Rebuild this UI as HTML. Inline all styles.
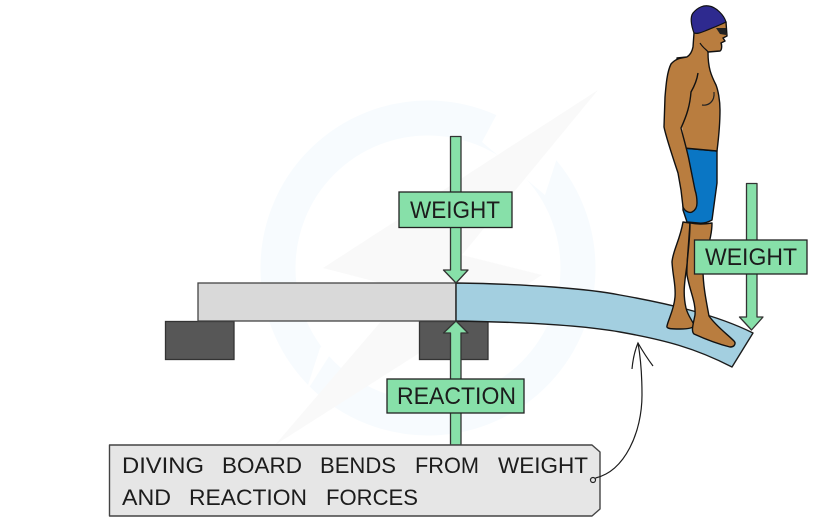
<!DOCTYPE html>
<html>
<head>
<meta charset="utf-8">
<style>
html,body{margin:0;padding:0;background:#fff;width:825px;height:527px;overflow:hidden}
svg{display:block}
text{font-family:"Liberation Sans",sans-serif;fill:#1c1c1c}
</style>
</head>
<body>
<svg width="825" height="527" viewBox="0 0 825 527" xmlns="http://www.w3.org/2000/svg">
<!-- watermark -->
<circle cx="428" cy="268" r="150" fill="none" stroke="#f7fbfe" stroke-width="35"/>
<polygon points="498,112 482,142 545,195 558,155 620,90 570,70" fill="#fff"/>
<polygon points="320,348 307,388 268,452 365,300" fill="#fff"/>
<polygon points="598,90 323,268 408,290 275,445 542,275 462,255" fill="#f9f9f9"/>

<!-- blocks -->
<rect x="165.500" y="321.500" width="68.500" height="38" fill="#575757" stroke="#333" stroke-width="1.300"/>
<rect x="419.500" y="321.500" width="68.500" height="38" fill="#575757" stroke="#333" stroke-width="1.300"/>

<!-- board -->
<rect x="198" y="283" width="258" height="38" fill="#d9d9d9" stroke="#444" stroke-width="1.300"/>
<path d="M456,283 C530,284 590,289 620,295 C665,303 715,314 753,333 L732,367 C695,348 665,340 620,332 C580,325 520,322 456,321 Z" fill="#a3cfe0" stroke="#1c1c1c" stroke-width="1.400" stroke-linejoin="round"/>

<!-- shorts -->
<path d="M683,148 L717,151 L717,183 L712,220 Q705,224 698,223 L687,222 L683,210 Z" fill="#0a76c4" stroke="#111" stroke-width="1.400" stroke-linejoin="round"/>

<!-- back leg -->
<path d="M683,222 C680,240 673,250 672,262 C673,278 676,285 675,297 C674,310 668,320 667,326 C666,329 672,329 680,329 C688,329 694,328 694,325 C692,320 688,316 686,308 C683,295 684,285 687,265 L690,223 Z" fill="#b97d3f" stroke="#111" stroke-width="1.400" stroke-linejoin="round"/>
<!-- front leg -->
<path d="M690,223 C690,245 686,262 687,275 C690,292 696,302 695,315 C693,325 691,331 694,334 C705,339 718,344 730,347 C735,347 736,343 734,341 C727,334 716,326 709,316 C706,300 703,285 703,270 C704,255 712,240 712,223 Q700,225 690,223 Z" fill="#b97d3f" stroke="#111" stroke-width="1.400" stroke-linejoin="round"/>

<!-- torso and head -->
<path d="M694,33 L693,47 C692,52 690,55 687,57 L677,58 L681,128 L684,148 L717,151 C719,135 720,120 720,110 C720,100 718,90 716,85 C711,75 708,68 708,52 L720,51 C722,50 722,45 721,43 L725,41 L723,38 L727,36 L726,22 L705,30 Z" fill="#b97d3f" stroke="#111" stroke-width="1.400" stroke-linejoin="round"/>
<!-- white sliver between arm and torso -->
<polygon points="680,128 682,127 685,147 683,147" fill="#fff"/>
<!-- arm -->
<path d="M687,57 C682,58 676,58 671,64 C667,72 666,85 665,97 L664,127 C666,137 672,155 678,173 L681,190 L683,207 C685,212 690,213 692,212 C696,210 697,206 697,203 C697,197 696,193 695,190 C693,180 691,170 689,160 C687,150 684,140 681,128 C687,115 690,105 691,92 C695,85 697,80 698,73 Z" fill="#b97d3f"/>
<path d="M687,57 C682,58 676,58 671,64 C667,72 666,85 665,97 L664,127 C666,137 672,155 678,173 L681,190 L683,207 C685,212 690,213 692,212 C696,210 697,206 697,203 C697,197 696,193 695,190 C693,180 691,170 689,160 C687,150 684,140 681,128 C687,115 690,105 691,92 C695,85 697,80 698,73" fill="none" stroke="#111" stroke-width="1.400"/>
<path d="M700,43 C703,48 707,50 708,52" fill="none" stroke="#111" stroke-width="1.200"/>
<path d="M702,105 C708,106 715,102 714,92" fill="none" stroke="#222" stroke-width="1.200"/>
<!-- goggles -->
<path d="M716,28 L726,28 L726,35 L720,34 Z" fill="#222"/>
<!-- cap -->
<path d="M694,33 C691,25 690,17 693,13 C698,7 704,5 709,6 C716,7 724,15 726,22 C718,26 712,28 705,31 C700,33 697,34 694,33 Z" fill="#2e2a8f" stroke="#111" stroke-width="1.200"/>

<!-- center weight arrow -->
<path d="M450.500,136.500 L461,136.500 L461,270 L468,270 L456,283 L443.500,270 L450.500,270 Z" fill="#87e0a9" stroke="#333" stroke-width="1.300" stroke-linejoin="round"/>
<rect x="399" y="192" width="113" height="35.500" fill="#87e0a9" stroke="#222" stroke-width="1.300"/>
<text x="410" y="218" font-size="24" textLength="90" lengthAdjust="spacingAndGlyphs">WEIGHT</text>

<!-- reaction arrow -->
<path d="M450.500,445 L461,445 L461,333 L468,333 L456,321 L443.500,333 L450.500,333 Z" fill="#87e0a9" stroke="#333" stroke-width="1.300" stroke-linejoin="round"/>
<rect x="387" y="379" width="137" height="34" fill="#87e0a9" stroke="#222" stroke-width="1.300"/>
<text x="397" y="404" font-size="24" textLength="119" lengthAdjust="spacingAndGlyphs">REACTION</text>

<!-- right weight arrow -->
<path d="M746.500,183.500 L757,183.500 L757,317 L763,317 L751.500,330 L739.500,317 L746.500,317 Z" fill="#87e0a9" stroke="#333" stroke-width="1.300" stroke-linejoin="round"/>
<rect x="694.500" y="240" width="112.500" height="34" fill="#87e0a9" stroke="#222" stroke-width="1.300"/>
<text x="705" y="265" font-size="24" textLength="92" lengthAdjust="spacingAndGlyphs">WEIGHT</text>

<!-- note -->
<path d="M109.500,445 L592,445 L600,452 L600,509 L592,516 L109.500,516 Z" fill="#e6e6e6" stroke="#444" stroke-width="1.400" stroke-linejoin="round"/>
<g font-size="22">
<text x="122" y="473" textLength="82" lengthAdjust="spacingAndGlyphs">DIVING</text>
<text x="222" y="473" textLength="80" lengthAdjust="spacingAndGlyphs">BOARD</text>
<text x="320" y="473" textLength="76" lengthAdjust="spacingAndGlyphs">BENDS</text>
<text x="415" y="473" textLength="64" lengthAdjust="spacingAndGlyphs">FROM</text>
<text x="498" y="473" textLength="90" lengthAdjust="spacingAndGlyphs">WEIGHT</text>
<text x="122" y="505" textLength="49" lengthAdjust="spacingAndGlyphs">AND</text>
<text x="189" y="505" textLength="118" lengthAdjust="spacingAndGlyphs">REACTION</text>
<text x="326" y="505" textLength="92" lengthAdjust="spacingAndGlyphs">FORCES</text>
</g>

<!-- pointer -->
<circle cx="593" cy="480" r="2.500" fill="#e6e6e6" stroke="#222" stroke-width="1.200"/>
<path d="M595.500,478 C625,471 642,432 642,395 C642,375 641,360 638,343" fill="none" stroke="#1c1c1c" stroke-width="1.200"/>
<path d="M632,369 C633,358 635,350 638,343 C642,350 647,358 653,366" fill="none" stroke="#1c1c1c" stroke-width="1.200"/>
</svg>
</body>
</html>
